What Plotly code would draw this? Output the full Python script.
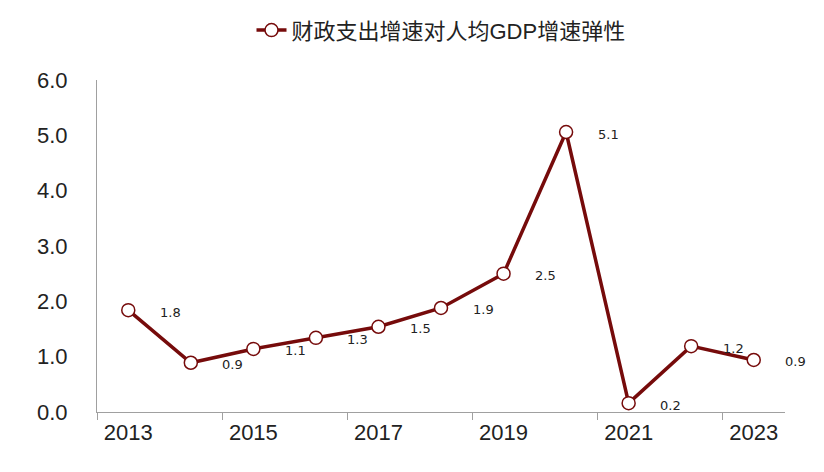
import plotly.graph_objects as go

years = ["2013", "2014", "2015", "2016", "2017", "2018", "2019", "2020", "2021", "2022", "2023"]
elasticity = [1.84, 0.89, 1.14, 1.34, 1.54, 1.88, 2.50, 5.06, 0.16, 1.19, 0.94]
series_name = "财政支出增速对人均GDP增速弹性"
y_ticks = [0, 1, 2, 3, 4, 5, 6]

dark_red = "#760b0b"
fig = go.Figure()
fig.add_trace(go.Scatter(
    x=years, y=elasticity, mode="lines+markers", name=series_name,
    line=dict(color=dark_red, width=3.5),
    marker=dict(size=13, color="white", line=dict(color=dark_red, width=1.5)),
))

annotations = []
for i, yv in enumerate(elasticity):
    annotations.append(dict(x=i, y=yv, xref="x", yref="y", text=f"{yv:.1f}",
                            showarrow=False, xshift=42, yshift=-2,
                            font=dict(family="DejaVu Sans", size=13, color="#222222")))

fig.update_layout(
    width=816, height=464,
    margin=dict(l=89, r=39, t=72, b=60),
    paper_bgcolor="white", plot_bgcolor="white",
    font=dict(family="Liberation Sans, Noto Sans CJK SC", color="#222"),
    showlegend=True,
    annotations=annotations,
    legend=dict(orientation="h", x=0.5, xanchor="center", yref="container",
                y=0.952, yanchor="middle",
                font=dict(size=22, family="Liberation Sans, Noto Sans CJK SC", color="#222")),
    xaxis=dict(type="category", range=[-0.5, 10.5], dtick=2, tickson="boundaries",
               showline=True, linecolor="#a0a0a0", linewidth=1.2,
               ticks="outside", ticklen=7, tickcolor="#a0a0a0", tickwidth=1.2,
               showgrid=False, zeroline=False,
               tickfont=dict(size=22, family="Liberation Sans", color="#222")),
    yaxis=dict(range=[0, 6], tickvals=y_ticks, tickformat=".1f",
               showline=True, linecolor="#a0a0a0", linewidth=1.2,
               ticks="", showgrid=False, zeroline=False, ticklabelstandoff=24,
               tickfont=dict(size=22, family="Liberation Sans", color="#222")),
)

fig.write_html("out.html")
